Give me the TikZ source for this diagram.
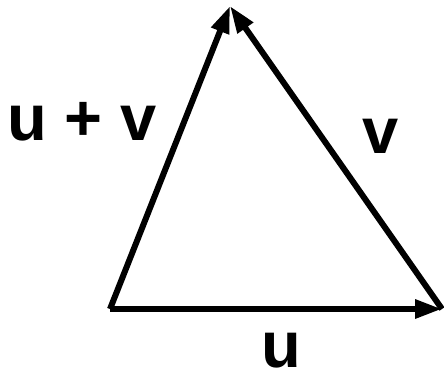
\documentclass[tikz,border=0pt]{standalone}
\usepackage{fontspec}
\setmainfont{Liberation Sans}
\usetikzlibrary{arrows.meta}
\begin{document}
\begin{tikzpicture}[x=1pt,y=-1pt,
  vec/.style={line width=6pt,-{Triangle[length=27pt,width=18pt]}},
  lbl/.style={font=\fontsize{65}{70}\selectfont\bfseries,inner sep=0pt}]
\useasboundingbox (0,0) rectangle (444,373);
\coordinate (A) at (110,309);
\coordinate (B) at (442,309);
\coordinate (C) at (230,6);
\draw[vec] (A) -- (B);
\draw[vec] (B) -- (C);
\draw[vec] (A) -- (C);
\node[lbl] (lu) at (281,351) {u};
\node[lbl] (lv) at (381,136) {v};
\node[lbl] (luv) at (82,122) {u + v};
\end{tikzpicture}
\end{document}
